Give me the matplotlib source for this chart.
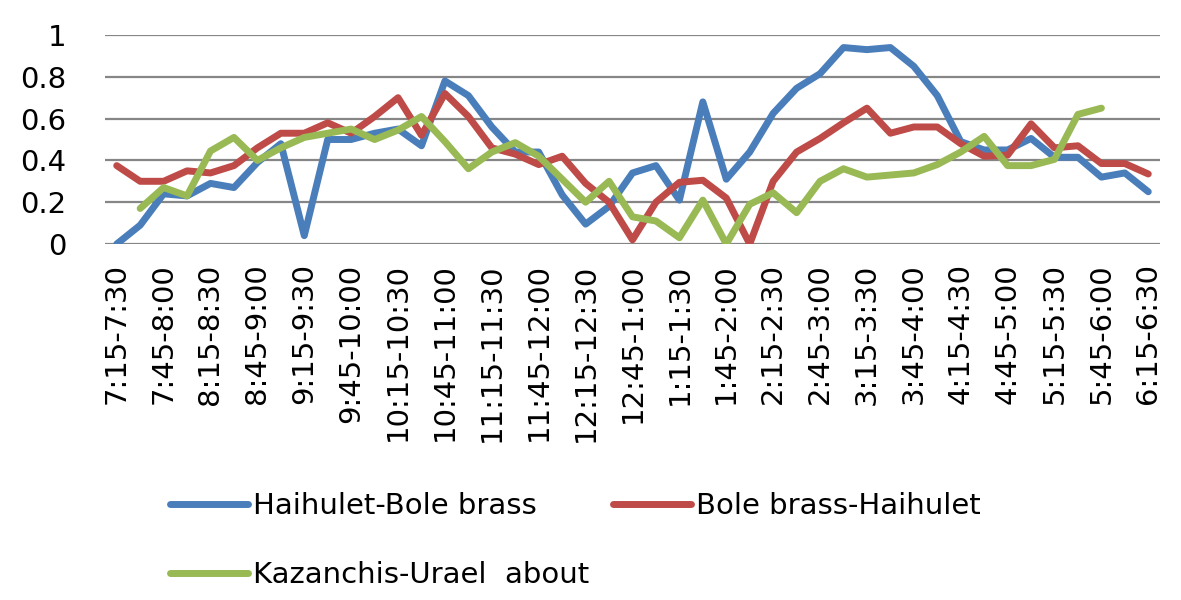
import matplotlib.pyplot as plt
import numpy as np

# 15-minute intervals from 7:15 to 6:30
starts = ['7:15', '7:30', '7:45', '8:00', '8:15', '8:30', '8:45', '9:00', '9:15', '9:30',
          '9:45', '10:00', '10:15', '10:30', '10:45', '11:00', '11:15', '11:30', '11:45',
          '12:00', '12:15', '12:30', '12:45', '1:00', '1:15', '1:30', '1:45', '2:00',
          '2:15', '2:30', '2:45', '3:00', '3:15', '3:30', '3:45', '4:00', '4:15', '4:30',
          '4:45', '5:00', '5:15', '5:30', '5:45', '6:00', '6:15', '6:30']
categories = [f'{a}-{b}' for a, b in zip(starts[:-1], starts[1:])]

haihulet_bole = [0.00, 0.09, 0.24, 0.23, 0.29, 0.27, 0.39, 0.48, 0.04, 0.50,
                 0.50, 0.53, 0.55, 0.47, 0.78, 0.71, 0.56, 0.44, 0.44, 0.235,
                 0.095, 0.18, 0.34, 0.375, 0.21, 0.68, 0.31, 0.44, 0.625, 0.745,
                 0.815, 0.94, 0.93, 0.94, 0.85, 0.71, 0.49, 0.45, 0.45, 0.505,
                 0.415, 0.415, 0.32, 0.34, 0.25]
bole_haihulet = [0.375, 0.30, 0.30, 0.35, 0.34, 0.375, 0.46, 0.53, 0.53, 0.58,
                 0.53, 0.61, 0.70, 0.52, 0.72, 0.61, 0.46, 0.43, 0.38, 0.42,
                 0.29, 0.20, 0.02, 0.20, 0.295, 0.305, 0.22, 0.00, 0.30, 0.44,
                 0.505, 0.58, 0.65, 0.53, 0.56, 0.56, 0.48, 0.42, 0.425, 0.575,
                 0.46, 0.47, 0.385, 0.385, 0.335]
kazanchis_urael = [np.nan, 0.17, 0.27, 0.23, 0.445, 0.51, 0.40, 0.46, 0.51, 0.53,
                   0.55, 0.50, 0.545, 0.61, 0.49, 0.36, 0.44, 0.485, 0.42, 0.31,
                   0.20, 0.30, 0.13, 0.11, 0.03, 0.21, 0.00, 0.19, 0.245, 0.15,
                   0.30, 0.36, 0.32, 0.33, 0.34, 0.38, 0.44, 0.515, 0.375, 0.375,
                   0.405, 0.62, 0.65, np.nan, np.nan]

plt.rcParams['font.family'] = ['DejaVu Sans']

fig = plt.figure(figsize=(11.81, 6.0), dpi=100)
ax = fig.add_axes([105 / 1181, 1 - 244 / 600, 1055 / 1181, 209 / 600])

x = np.arange(len(categories))
style = dict(lw=5, solid_joinstyle='round', solid_capstyle='round')
l1, = ax.plot(x, haihulet_bole, color='#4a7ebb', label='Haihulet-Bole brass', **style)
l2, = ax.plot(x, bole_haihulet, color='#be4b48', label='Bole brass-Haihulet', **style)
l3, = ax.plot(x, kazanchis_urael, color='#98b954', label='Kazanchis-Urael  about', **style)

ax.set_xlim(-0.5, len(categories) - 0.5)
ax.set_ylim(0, 1)
ax.set_yticks([0, 0.2, 0.4, 0.6, 0.8, 1.0])
ax.set_yticklabels(['0', '0.2', '0.4', '0.6', '0.8', '1'], fontsize=21)
ax.set_xticks(x)
ax.set_xticklabels([c if i % 2 == 0 else '' for i, c in enumerate(categories)],
                   rotation=90, fontsize=21)
ax.tick_params(axis='x', length=0, pad=14)
ax.tick_params(axis='y', length=0, pad=28)
ax.grid(axis='y', color='#868686', lw=1.6)
ax.set_axisbelow(True)
for s in ax.spines.values():
    s.set_visible(False)

# row-major order like the original: blue, red / green
fig.legend([l1, l3, l2], [l1.get_label(), l3.get_label(), l2.get_label()],
           loc='upper left', bbox_to_anchor=(170 / 1181, 1 - 492 / 600), ncol=2,
           frameon=False, fontsize=21, handlelength=2.67, handletextpad=0.17,
           columnspacing=0.82, labelspacing=1.4, borderpad=0, borderaxespad=0)

fig.savefig('out.png', dpi=100)
